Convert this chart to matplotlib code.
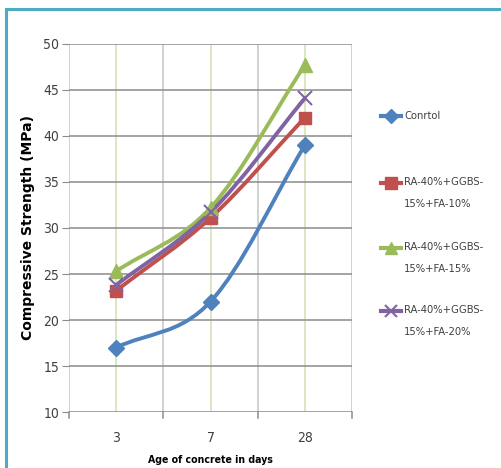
import matplotlib
matplotlib.use("Agg")
import matplotlib.pyplot as plt
from matplotlib.path import Path
from matplotlib.patches import PathPatch, Rectangle
from matplotlib.lines import Line2D

# ---- data ----
ages = ["3", "7", "28"]
control = [17.0, 22.0, 39.0]
mix_fa10 = [23.2, 31.1, 42.0]
mix_fa15 = [25.3, 32.2, 47.7]
mix_fa20 = [23.8, 31.7, 44.1]
series_names = ["Conrtol", "RA-40%+GGBS-\n15%+FA-10%",
                "RA-40%+GGBS-\n15%+FA-15%", "RA-40%+GGBS-\n15%+FA-20%"]
y_ticks = [10, 15, 20, 25, 30, 35, 40, 45, 50]

plt.rcParams["font.family"] = ["DejaVu Sans"]
plt.rcParams["font.stretch"] = "condensed"

W, H = 502, 468
fig = plt.figure(figsize=(W / 100, H / 100), dpi=100)
fig.patch.set_facecolor("white")

# outer frame
fig.add_artist(Rectangle((6 / W, -0.05), 1.2, (1 - 9 / H) + 0.05,
                         transform=fig.transFigure, fill=False,
                         edgecolor="#4BACC6", linewidth=2.2))

ax = fig.add_axes([69 / W, 1 - 412 / H, (352 - 69) / W, (412 - 44) / H])
ax.set_xlim(-0.5, 2.5)
ax.set_ylim(10, 50)

x = list(range(len(ages)))

# grid: gray at category boundaries, light green at category centres
for b in [-0.5, 0.5, 1.5, 2.5]:
    ax.axvline(b, color="#c9c9c9", lw=1.2, zorder=0)
for c in x:
    ax.axvline(c, color="#d3e3b6", lw=1.2, zorder=0)
for t in y_ticks:
    ax.axhline(t, color="#8c8c8c", lw=1.1, zorder=0)

for s in ax.spines.values():
    s.set_visible(False)

ax.set_yticks(y_ticks)
ax.set_xticks(x)
ax.set_xticklabels(ages)
ax.tick_params(axis="y", length=5, color="#8c8c8c", labelsize=10,
               labelcolor="#404040", pad=2)
ax.tick_params(axis="x", length=0, labelsize=10, labelcolor="#404040", pad=14)
for b in [-0.5, 0.5, 1.5, 2.5]:
    ax.plot([b, b], [10, 9.3], color="#8c8c8c", lw=1.1, clip_on=False)


def smooth_path(xs, ys):
    """Cubic Bezier path through the points (Catmull-Rom style tangents)."""
    n = len(xs)
    tang = []
    for i in range(n):
        if i == 0:
            tang.append((xs[1] - xs[0], ys[1] - ys[0]))
        elif i == n - 1:
            tang.append((xs[-1] - xs[-2], ys[-1] - ys[-2]))
        else:
            tang.append(((xs[i + 1] - xs[i - 1]) / 2, (ys[i + 1] - ys[i - 1]) / 2))
    verts = [(xs[0], ys[0])]
    codes = [Path.MOVETO]
    for i in range(n - 1):
        verts += [(xs[i] + tang[i][0] / 3, ys[i] + tang[i][1] / 3),
                  (xs[i + 1] - tang[i + 1][0] / 3, ys[i + 1] - tang[i + 1][1] / 3),
                  (xs[i + 1], ys[i + 1])]
        codes += [Path.CURVE4] * 3
    return Path(verts, codes)


styles = [
    (control, "#4F81BD", "D", 8, None),
    (mix_fa10, "#C0504D", "s", 9, None),
    (mix_fa15, "#9BBB59", "^", 10, None),
    (mix_fa20, "#8064A2", "x", 10, 1.5),
]
for vals, col, mk, ms, mew in styles:
    ax.add_patch(PathPatch(smooth_path(x, vals), facecolor="none",
                           edgecolor=col, lw=2.8, zorder=3, capstyle="round"))
    kw = dict(markeredgewidth=mew) if mew else {}
    ax.plot(x, vals, linestyle="none", marker=mk, ms=ms, color=col,
            zorder=4, **kw)

ax.set_ylabel("Compressive Strength (MPa)", fontsize=10, fontweight="bold",
              fontstretch="normal", labelpad=6, color="black")
ax.set_xlabel("Age of concrete in days", fontsize=7.6, fontweight="bold",
              labelpad=7, color="black")

# legend
leg_y = [116, 183, 248, 311]
for (vals, col, mk, ms, mew), name, yy in zip(styles, series_names, leg_y):
    multi = "\n" in name
    yf = 1 - yy / H
    fig.add_artist(Line2D([381 / W, 401 / W], [yf, yf], color=col, lw=3,
                          transform=fig.transFigure))
    kw = dict(markeredgewidth=mew) if mew else {}
    fig.add_artist(Line2D([391 / W], [yf], marker=mk, ms=ms * 0.9, color=col,
                          transform=fig.transFigure, **kw))
    ty = 1 - (yy - 6) / H if multi else yf
    fig.text(404 / W, ty, name, fontsize=8, color="#404040",
             va="top" if multi else "center", linespacing=2.55)

fig.savefig("out.png", dpi=100, facecolor="white")
